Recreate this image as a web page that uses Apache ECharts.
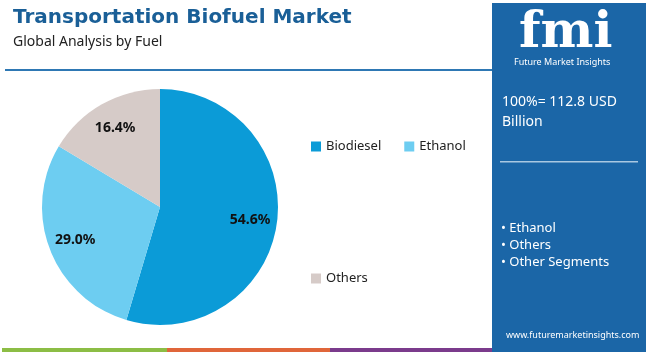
<!DOCTYPE html>
<html>
<head>
<meta charset="utf-8">
<script src="https://cdn.jsdelivr.net/npm/echarts@6/dist/echarts.min.js"></script>
<style>
  html, body { margin: 0; padding: 0; background: #fff; }
  #main { width: 650px; height: 352px; }
</style>
</head>
<body>
<div id="main"></div>
<script>
// data
var fuels = ['Biodiesel', 'Ethanol', 'Others'];
var shares = [54.6, 29.0, 16.4];
var sliceColors = ['#0b9bd7', '#6dcdf1', '#d6cbc8'];
var segments = ['Ethanol', 'Others', 'Other Segments'];
var marketSize = '100%= 112.8 USD';

var pieData = fuels.map(function (name, i) {
    return { name: name, value: shares[i], itemStyle: { color: sliceColors[i] } };
});

var myChart = echarts.init(document.getElementById('main'));

var graphics = [
    // titles
    { type: 'text', left: 13, top: 8, style: { text: 'Transportation Biofuel Market', fill: '#1a5f97', font: 'bold 20px "DejaVu Sans"' } },
    { type: 'text', left: 13, top: 35, style: { text: 'Global Analysis by Fuel', fill: '#222', font: '14px "Noto Sans"' } },
    { type: 'rect', shape: { x: 5, y: 69, width: 487, height: 2 }, style: { fill: '#2e78b4' } },
    // bottom stripes
    { type: 'rect', shape: { x: 2, y: 348, width: 165, height: 4 }, style: { fill: '#8cbd45' } },
    { type: 'rect', shape: { x: 167, y: 348, width: 163, height: 4 }, style: { fill: '#e0663a' } },
    { type: 'rect', shape: { x: 330, y: 348, width: 163, height: 4 }, style: { fill: '#7b3b8c' } },
    // right panel
    { type: 'rect', shape: { x: 492, y: 3, width: 154, height: 349 }, style: { fill: '#1b66a7' } },
    { type: 'text', left: 519, top: 9, style: { text: 'fmi', fill: '#fff', font: 'bold 50px "DejaVu Serif"' } },
    { type: 'text', left: 514, top: 58, style: { text: 'Future Market Insights', fill: '#fff', font: '9px "Noto Sans"' } },
    { type: 'text', left: 502, top: 95, style: { text: marketSize, fill: '#fff', font: '14px "Noto Sans"' } },
    { type: 'text', left: 502, top: 115, style: { text: 'Billion', fill: '#fff', font: '14px "Noto Sans"' } },
    { type: 'rect', shape: { x: 500, y: 161, width: 138, height: 1.5 }, style: { fill: '#a9c8e2' } },
    { type: 'text', left: 506, top: 331, style: { text: 'www.futuremarketinsights.com', fill: '#fff', font: '9px "Noto Sans"' } }
];
segments.forEach(function (s, i) {
    graphics.push({ type: 'text', left: 501, top: 222 + i * 17, style: { text: '\u2022 ' + s, fill: '#fff', font: '13px "Noto Sans"' } });
});

var option = {
    animation: false,
    backgroundColor: '#fff',
    graphic: graphics,
    legend: [{
        data: ['Biodiesel', 'Ethanol'],
        left: 306, top: 135,
        icon: 'rect', itemWidth: 10, itemHeight: 10, itemGap: 23,
        textStyle: { fontSize: 13, color: '#222', fontFamily: 'Noto Sans' }
    }, {
        data: ['Others'],
        left: 306, top: 267,
        icon: 'rect', itemWidth: 10, itemHeight: 10,
        textStyle: { fontSize: 13, color: '#222', fontFamily: 'Noto Sans' }
    }],
    series: [{
        type: 'pie',
        center: [160, 207],
        radius: [0, 118],
        startAngle: 90,
        clockwise: true,
        silent: true,
        label: { show: false },
        labelLine: { show: false },
        data: pieData
    }, {
        // transparent copy only used to place the percentage labels
        type: 'pie',
        center: [160, 207],
        radius: [0, 176],
        startAngle: 90,
        clockwise: true,
        silent: true,
        itemStyle: { color: 'transparent' },
        label: {
            show: true,
            position: 'inside',
            formatter: function (p) { return p.value.toFixed(1) + '%'; },
            color: '#111',
            fontWeight: 'bold',
            fontSize: 14,
            fontFamily: 'Noto Sans'
        },
        labelLine: { show: false },
        data: fuels.map(function (name, i) {
            return { name: name, value: shares[i], itemStyle: { color: 'transparent' } };
        })
    }]
};

myChart.setOption(option);
</script>
</body>
</html>
